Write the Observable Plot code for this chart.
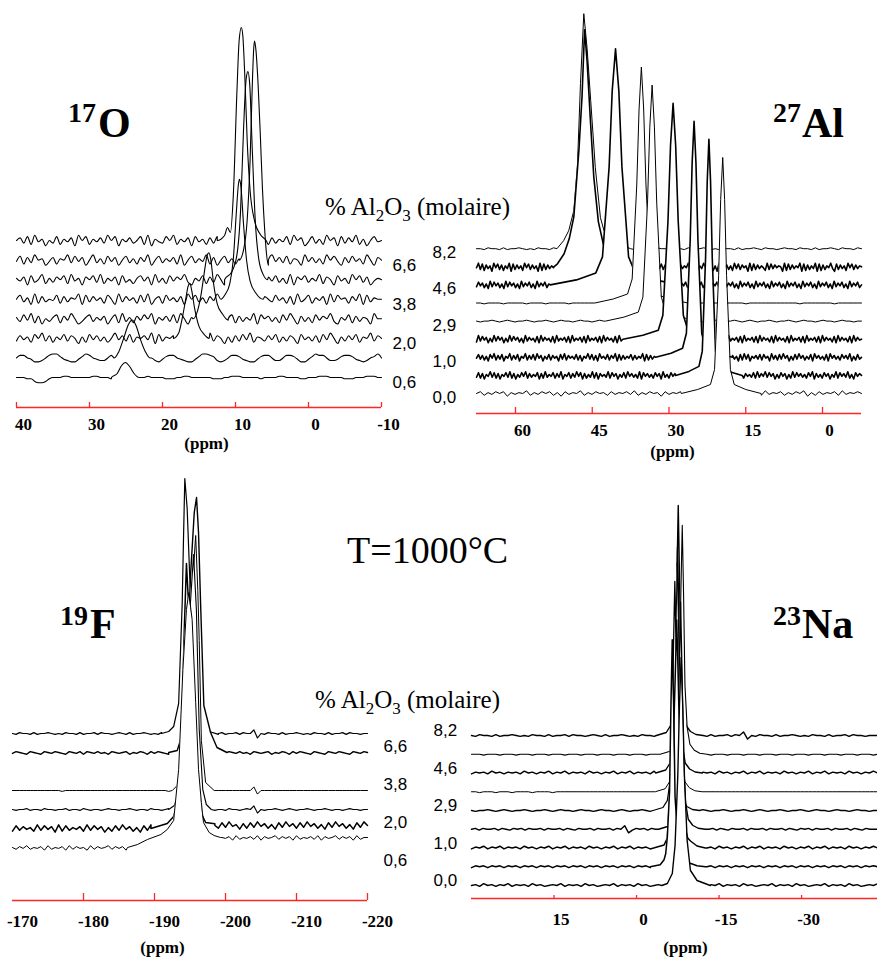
<!DOCTYPE html>
<html><head><meta charset="utf-8">
<script src="https://cdn.jsdelivr.net/npm/d3@7"></script>
<script src="https://cdn.jsdelivr.net/npm/@observablehq/plot@0.6"></script>
<style>
body{margin:0;background:#fff;}
#page{position:relative;width:877px;height:962px;overflow:hidden;background:#fff;}
.panel{position:absolute;}
.t{position:absolute;font-family:"Liberation Serif","Times New Roman",serif;white-space:nowrap;line-height:1;color:#000;}
.b{font-weight:bold;}
</style></head><body><div id="page"></div>
<script>
// ---------- DATA ----------
// composition grids (% Al2O3 molaire), bottom trace first
const gridO = ["0,6","1,0","2,0","2,9","3,8","4,6","6,6","8,2"];
const gridAll = ["0,0","0,6","1,0","2,0","2,9","3,8","4,6","6,6","8,2"];

// 17O
const oTicks = [40, 30, 20, 10, 0, -10];
const oComp = ["0,6","1,0","2,0","2,9","3,8","4,6","6,6","8,2"];
const oLabels = ["0,6","2,0","3,8","6,6"];
const oPeaks = [
 [[27,0],[26.2,4],[25.6,12],[25.1,15],[24.5,11],[23.9,4],[23.2,0]],
 [[26.6,0],[26,6],[25.3,20],[24.7,33],[24.15,38],[23.6,32],[23,18],[22.4,7],[21.7,0]],
 [[18.5,0],[17.8,5],[17.3,20],[16.8,40],[16.5,52],[16.25,55],[16,48],[15.6,30],[15,12],[14.3,4],[13.6,0]],
 [[15.8,0],[15.2,8],[14.7,25],[14.2,50],[13.9,63],[13.65,66],[13.4,60],[13,35],[12.5,15],[11.8,5],[11,0]],
 [[12,0],[11.4,5],[10.8,15],[10.3,40],[9.9,85],[9.6,115],[9.45,120],[9.25,112],[8.9,75],[8.5,40],[8,18],[7.2,6],[6.2,0]],
 [[11.5,0],[10.5,8],[9.8,25],[9.3,70],[8.9,150],[8.55,200],[8.3,208],[8.05,195],[7.7,130],[7.3,60],[6.8,20],[6.2,5],[5.6,0]],
 [[9.5,0],[8.9,10],[8.4,40],[8,100],[7.7,175],[7.5,212],[7.4,219],[7.2,210],[6.9,175],[6.6,125],[6.3,70],[6,30],[5.8,10],[5.5,0]],
 [[12.5,0],[11.5,5],[11.1,13],[10.7,8],[10.3,45],[9.8,150],[9.5,200],[9.2,213],[9,205],[8.7,160],[8.4,100],[8,50],[7.4,20],[6.6,6],[5.8,0]]
];
const oNoise = [
 "55544211245556655555566555455555555565555444556655555544455666555554555566555544555666555544455566655",
 "57754223578864322468754335776422357865324677543224688763235776432246775335776422468775334677643235685",
 "37462859372648375162847362594738265749183657284736284937516273849265374826375184637284951637482659375",
 "63849271536827495136836471582936274859164738295164837261594827364918573628495173628475931648273651955",
 "58361927354827365918374628519374628391572846371958362749518273648291753846271935826471938562749183655",
 "64718359263758294617583926471835268471936284759316482739516273846159274836291758364927518462958371465",
 "48273956147265938471593628471583627491583647291583649271583626957384619473826519473629584173846295175",
 "57382946153826471958264739581647358291643859264718462738591628473691527364829571483629571837492615845"
];

// 27Al
const alTicks = [60, 45, 30, 15, 0];
const alComp = ["0,0","0,6","1,0","2,0","2,9","3,8","4,6","6,6","8,2"];
const alLabels = ["0,0","1,0","2,9","4,6","8,2"];
const alPeaks = [
 [[27.6,0],[24.4,4],[21.9,9],[21.1,24],[20.3,118],[19.9,194],[19.5,236],[19.13,194],[18.75,118],[18,24],[17.25,9],[15,4],[12,0]],
 [[28.7,0],[26.1,4],[24.15,9],[23.5,24],[22.85,118],[22.53,194],[22.2,236],[21.88,194],[21.55,118],[20.9,24],[20.25,9],[18.3,4],[15.7,0]],
 [[32.6,0],[29.6,4],[27.35,9],[26.6,24],[25.85,118],[25.48,194],[25.1,236],[24.73,194],[24.35,118],[23.6,24],[22.85,9],[20.6,4],[17.6,0]],
 [[39,0],[35.1,4],[32.1,9],[31.2,24],[30.2,118],[29.7,194],[29.2,236],[28.7,194],[28.2,118],[27.2,24],[26.3,9],[23.3,4],[19.4,0]],
 [[42.4,0],[38.8,4],[36,9],[35.1,24],[34.2,118],[33.75,194],[33.3,236],[32.85,194],[32.4,118],[31.5,24],[30.6,9],[27.8,4],[24.2,0]],
 [[44.5,0],[40.9,4],[38.1,9],[37.2,24],[36.3,118],[35.85,194],[35.4,236],[34.95,194],[34.5,118],[33.6,24],[32.7,9],[29.9,4],[26.3,0]],
 [[53.2,0],[48.1,5],[44.3,12],[43,28],[41.7,118],[41.1,194],[40.45,236],[39.8,194],[39.2,118],[37.9,28],[36.6,12],[32.8,5],[27.8,0]],
 [[52.5,0],[51.8,3],[50.5,13],[49.5,28],[48.6,50],[47.6,117],[47,170],[46.5,237],[46,205],[45.4,150],[44.7,90],[43.8,45],[42.8,22],[41,8],[38,0]],
 [[51.9,0],[50.6,8],[49.6,18],[48.6,38],[47.9,82],[47.3,165],[46.65,235],[46,200],[45.3,148],[44.4,81],[43.4,31],[42.7,18],[40.5,6],[37.5,0]]
];
const alNoise = [
 "57364757264658364757362746583647563746574836475627465738465736475826374657384657364758263746573846575",
 "38271649382716483927163849273648172936482739164827394817263928174639284716382947362918473628471936284738261947361829473629471638294817362746382937493847162847162938473628491736284716392847392618475",
 "483726184927381649273816492738294716382746183927463827164938271946382749182736482736491827364817293827461839473819274638294736182947361829381647382846193728394716283947263819473628194736284739162835",
 "293847162938471629384726193746281937462819364728193647281936472819374628193746281937462819364728193647281937462819374628193746281936472819364728193746281937462819364728193647281937462819374628193745",
 "54556545654556545565456554565545655456545565456545655654565455654556545654556545565456554565545655455",
 "55455554555554555545555545555555455555555555455555455555555545555555554555555555555545555555545555555",
 "384726193847261938472619374826193748261937482619374826193748261937482619374826193748261937482619374826193748261937482619374826193748261937482619374826193748261937482619374826193748261937482619374825",
 "492817360948271639082736194827360918273649182736203121938472609182736491827360948172639082746193827460918273649081726394827160938472619382746091827364192837465091827364908172639081726493082736194827365",
 "55465546455654546554645565465545655465546455654655465546455654546554645565465545655465546455654655465"
];

// 19F
const fTicks = [-170, -180, -190, -200, -210, -220];
const fComp = ["1,0","2,0","2,9","3,8","6,6","8,2"];
const fLabels = ["0,6","2,0","3,8","6,6"];
const fLevelRight = [10, 3, 0, 0, 0, 0];
const fPeaks = [
 [[-186.2,0],[-187.6,3],[-189,8],[-190.9,13],[-191.8,18],[-192.7,27],[-193.4,78],[-194,178],[-194.5,238],[-194.83,255],[-195.3,228],[-195.8,145],[-196.2,78],[-196.6,45],[-196.9,25],[-197.7,15],[-198.4,12],[-199.3,10]],
 [[-189.5,0],[-191.8,5],[-192.7,12],[-193.2,25],[-193.8,90],[-194.2,200],[-194.5,265],[-194.9,210],[-195.4,120],[-196,50],[-196.6,15],[-197.2,6],[-198.5,3]],
 [[-192,0],[-192.8,4],[-193.3,15],[-194.2,70],[-195,200],[-195.5,255],[-195.9,200],[-196.3,80],[-196.8,20],[-197.3,5],[-198,0]],
 [[-192.5,0],[-193.2,5],[-193.6,18],[-194.4,60],[-195.2,190],[-195.8,255],[-196.1,200],[-196.3,150],[-196.6,50],[-197.2,8],[-198.4,0]],
 [[-192,0],[-193.2,2],[-193.7,13],[-194.4,60],[-195.1,180],[-195.6,240],[-195.92,255],[-196.2,220],[-196.5,147],[-196.95,47],[-197.9,20],[-198.8,5],[-200.2,0]],
 [[-191,0],[-192,2],[-192.7,7],[-193.4,30],[-193.9,130],[-194.1,200],[-194.27,255],[-194.6,225],[-195,150],[-195.3,97],[-196,30],[-196.9,7],[-197.7,2],[-199,0]]
];
const fNoise = [
 "53647354627354627364527364573646273546364735462735463726473546273546372645736462735463726457364627355",
 "28374629384719283647293847162839472618394728361947283946172839461728394726183947283947261839472618395",
 "54556455465545564554654554565545565455465545654554655456545546554565915455654565455654556545545655455",
 "55555555555555455555555555555555555555555555455555555555555555555555915555555555555555555555555555555",
 "46543654365465436546365464536545635465364654365436546543654636546453654563546536465436543654654365465",
 "54655464556545465546455646554565464556545465546455654546554645564655905465546455654546554645564655455"
];

// 23Na
const naTicks = [15, 0, -15, -30];
const naComp = ["0,0","0,6","1,0","2,0","2,9","3,8","4,6","6,6","8,2"];
const naLabels = ["0,0","1,0","2,9","4,6","8,2"];
const naPeaks = [
 [[-4.6,0],[-5.6,2],[-6.5,12],[-7,40],[-7.5,110],[-7.8,180],[-8.1,228],[-8.4,180],[-8.7,110],[-9.2,45],[-9.8,15],[-11,5],[-13.4,0]],
 [[-2.5,0],[-4.3,2],[-5,7],[-5.3,13],[-5.6,30],[-6,75],[-6.25,160],[-6.49,227],[-6.75,160],[-7,70],[-7.5,27],[-8.3,10],[-9.5,4],[-11,1],[-12.5,0]],
 [[-3.1,0],[-5,3],[-5.6,10],[-5.9,40],[-6.6,90],[-7,165],[-7.3,228],[-7.6,165],[-7.95,70],[-8.5,27],[-9.3,10],[-9.8,7],[-11,2],[-12.5,0]],
 [[-4,0],[-5.8,3],[-6.6,10],[-7.1,27],[-7.5,68],[-7.75,159],[-8,227],[-8.25,159],[-8.5,68],[-8.9,27],[-9.4,10],[-10.2,4],[-11.2,1],[-12.5,0]],
 [[-3,0],[-4.8,3],[-5.6,10],[-6.05,27],[-6.45,69],[-6.7,160],[-6.96,229],[-7.2,160],[-7.45,69],[-7.85,27],[-8.35,10],[-9.15,4],[-10.15,1],[-11.45,0]],
 [[-3.4,0],[-5.2,3],[-6,10],[-6.5,27],[-6.9,69],[-7.15,160],[-7.4,229],[-7.65,160],[-7.9,69],[-8.3,27],[-8.8,10],[-9.6,4],[-10.6,1],[-11.9,0]],
 [[-3.5,0],[-5.3,3],[-6.1,10],[-6.55,27],[-6.95,68],[-7.2,158],[-7.45,226],[-7.7,158],[-7.95,68],[-8.35,27],[-8.85,10],[-9.65,4],[-10.65,1],[-11.95,0]],
 [[-4.3,0],[-6.1,3],[-6.9,10],[-7.4,27],[-7.8,69],[-8.05,160],[-8.31,229],[-8.55,160],[-8.8,69],[-9.2,27],[-9.7,10],[-10.5,4],[-11.5,1],[-12.8,0]],
 [[-3.6,0],[-5.4,3],[-6.2,10],[-6.7,27],[-7.1,69],[-7.35,161],[-7.58,230],[-7.8,161],[-8.1,69],[-8.5,27],[-9,10],[-9.8,4],[-10.8,1],[-12.1,0]]
];
const naNoise = [
 "56475646574656475645657465647564565746564756456574656475645657465647564565746564756456574656475645657",
 "46564656465646564656465646564656465646564656465646564656465646564656465646564656465646564656465646565",
 "46574657465647564657465746564756465746574656475646574657465647564657465746564756465746574656475646575",
 "56465564654656465564655646546556465564659146564655646546556465564654655646556465564654656465564655646546555",
 "54556545654556545565456554565545655456545565456545655654565455654556545654556545565456554565545655455",
 "55455545554555545555455555555555555555555555555555555555555555555555555555555555555555555555555555555",
 "46564756465647564657465746564756465746574656475646574657465647564657465746564756465746574656475646575",
 "55545554555455545554555455545554555455545554555455545554555455545554555455545554555455545554555455545",
 "54655464556545465546455646554565464556545465546455654546554645564659154655464556545465546455646554555"
];

// ---------- LAYOUT ----------
const RED = "#ff2626";
const SERIF = "Liberation Serif, Times New Roman, serif";
const panels = [
 {left:0, top:0, width:440, height:470, mL:16, mR:59, mB:63, domain:[40,-10], ticks:oTicks, tickMarks:oTicks,
  tickLen:5, tickPad:10, tickDx:7, grid:gridO, comp:oComp, peaks:oPeaks, noise:oNoise, levelR:null,
  labels:oLabels, labelSide:"right", labelDx:11, labelDy:5, base:30, step:19.57, scale:1.3, fill:false, curve:"monotone-x",
  stroke:[1.1,1.1,1.1,1.1,1.1,1.1,1.1,1.1], ppmDx:7.5, ppmDy:41},
 {left:430, top:0, width:447, height:470, mL:46, mR:16, mB:57, domain:[67.62,-7.62], ticks:alTicks, tickMarks:alTicks,
  tickLen:6, tickPad:10, tickDx:7, grid:gridAll, comp:alComp, peaks:alPeaks, noise:alNoise, levelR:null,
  labels:alLabels, labelSide:"left", labelDx:-44, labelDy:4, base:20, step:18.1, scale:0.9, fill:true, curve:"linear",
  stroke:[1.0,1.6,1.6,1.6,1.0,1.0,1.6,1.6,1.0], ppmDx:3.5, ppmDy:43},
 {left:0, top:470, width:440, height:492, mL:12, mR:73, mB:62, domain:[-170,-220], ticks:fTicks, tickMarks:[-180,-190,-200,-210,-220],
  tickLen:7, tickPad:14, tickDx:10, grid:gridO, comp:fComp, peaks:fPeaks, noise:fNoise, levelR:fLevelRight,
  labels:fLabels, labelSide:"right", labelDx:16, labelDy:-5.5, base:34, step:19, scale:0.9, fill:true, curve:"linear",
  stroke:[1.0,1.5,1.1,1.0,1.4,1.2], ppmDx:-27.5, ppmDy:52},
 {left:430, top:470, width:447, height:492, mL:41, mR:0, mB:64, domain:[30,-43.8], ticks:naTicks, tickMarks:naTicks,
  tickLen:3, tickPad:14, tickDx:7, grid:gridAll, comp:naComp, peaks:naPeaks, noise:naNoise, levelR:null,
  labels:naLabels, labelSide:"left", labelDx:-38, labelDy:-4.5, base:13, step:18.75, scale:0.9, fill:true, curve:"linear",
  stroke:[1.4,1.5,1.5,1.4,1.3,1.0,1.4,1.1,1.4], ppmDx:11, ppmDy:54}
];

function buildTrace(peak, noise, domain, scale, levelR) {
  const [a, b] = domain;
  const n = noise.length;
  const hi = d3.max(peak, p => p[0]), lo = d3.min(peak, p => p[0]);
  const pts = [];
  for (let i = 0; i < n; i++) {
    const x = a + (b - a) * i / (n - 1);
    if (x < hi && x > lo) continue;
    const lvl = x <= lo ? levelR : 0;
    pts.push([x, (noise.charCodeAt(i) - 53) * scale + lvl]);
  }
  for (const p of peak) pts.push(p);
  pts.sort((p, q) => q[0] - p[0]);
  return pts;
}

function panelPlot(P) {
  const marks = [];
  const slotOf = c => P.grid.indexOf(c);
  const offOf = c => P.base + slotOf(c) * P.step;
  const order = P.comp.map((c, i) => i).sort((i, j) => slotOf(P.comp[j]) - slotOf(P.comp[i]));
  for (const i of order) {
    const off = offOf(P.comp[i]);
    const pts = buildTrace(P.peaks[i], P.noise[i], P.domain, P.scale, P.levelR ? P.levelR[i] : 0);
    if (P.fill) marks.push(Plot.areaY(pts, {x: d => d[0], y1: 0, y2: d => off + d[1], fill: "white", curve: P.curve}));
    marks.push(Plot.lineY(pts, {x: d => d[0], y: d => off + d[1], stroke: "black", strokeWidth: P.stroke[i], curve: P.curve, strokeLinejoin: "round"}));
  }
  marks.push(Plot.ruleY([0], {stroke: RED, strokeWidth: 1.5}));
  marks.push(Plot.ruleX(P.tickMarks, {x: d => d, y1: 0, y2: P.tickLen, stroke: RED, strokeWidth: 1.3}));
  marks.push(Plot.text(P.ticks, {x: d => d, y: 0, text: d => String(d), lineAnchor: "top", dx: P.tickDx, dy: P.tickPad,
    fontFamily: SERIF, fontWeight: "bold", fontSize: 17}));
  marks.push(Plot.text(["(ppm)"], {frameAnchor: "bottom", text: d => d, dx: P.ppmDx, dy: P.ppmDy,
    fontFamily: SERIF, fontWeight: "bold", fontSize: 17}));
  marks.push(Plot.text(P.labels, {frameAnchor: P.labelSide, y: c => offOf(c), text: d => d, textAnchor: "start",
    dx: P.labelDx, dy: P.labelDy, fontFamily: "Liberation Sans, Arial, sans-serif", fontSize: 17}));
  return Plot.plot({
    width: P.width, height: P.height,
    marginLeft: P.mL, marginRight: P.mR, marginTop: 0, marginBottom: P.mB,
    x: {domain: P.domain, axis: null},
    y: {domain: [0, P.height - P.mB], axis: null},
    style: {fontFamily: SERIF, fontSize: "17px", background: "transparent", overflow: "visible", color: "black"},
    marks
  });
}

const page = document.getElementById("page");
for (const P of panels) {
  const wrap = document.createElement("div");
  wrap.className = "panel";
  wrap.style.left = P.left + "px";
  wrap.style.top = P.top + "px";
  wrap.appendChild(panelPlot(P));
  page.appendChild(wrap);
}

// free text (nucleus titles, temperature, composition heading)
function addText(html, left, baseline, size, cls) {
  const d = document.createElement("div");
  d.className = "t " + (cls || "");
  d.style.left = left + "px";
  d.style.top = (baseline - 0.8375 * size) + "px";
  d.style.fontSize = size + "px";
  d.innerHTML = html;
  page.appendChild(d);
}
addText("17", 68, 122, 28, "b"); addText("O", 98, 137, 42, "b");
addText("27", 773, 122, 28, "b"); addText("Al", 802, 137, 42, "b");
addText("19", 60, 625, 28, "b"); addText("F", 90, 638, 42, "b");
addText("23", 773, 625, 28, "b"); addText("Na", 802, 638, 42, "b");
addText("T=1000°C", 347, 563, 38, "");
const heading = '% Al<span style="font-size:17px;vertical-align:-6px">2</span>O<span style="font-size:17px;vertical-align:-6px">3</span> (molaire)';
addText(heading, 325, 215, 25, "");
addText(heading, 315, 708, 25, "");
</script>
</body></html>
